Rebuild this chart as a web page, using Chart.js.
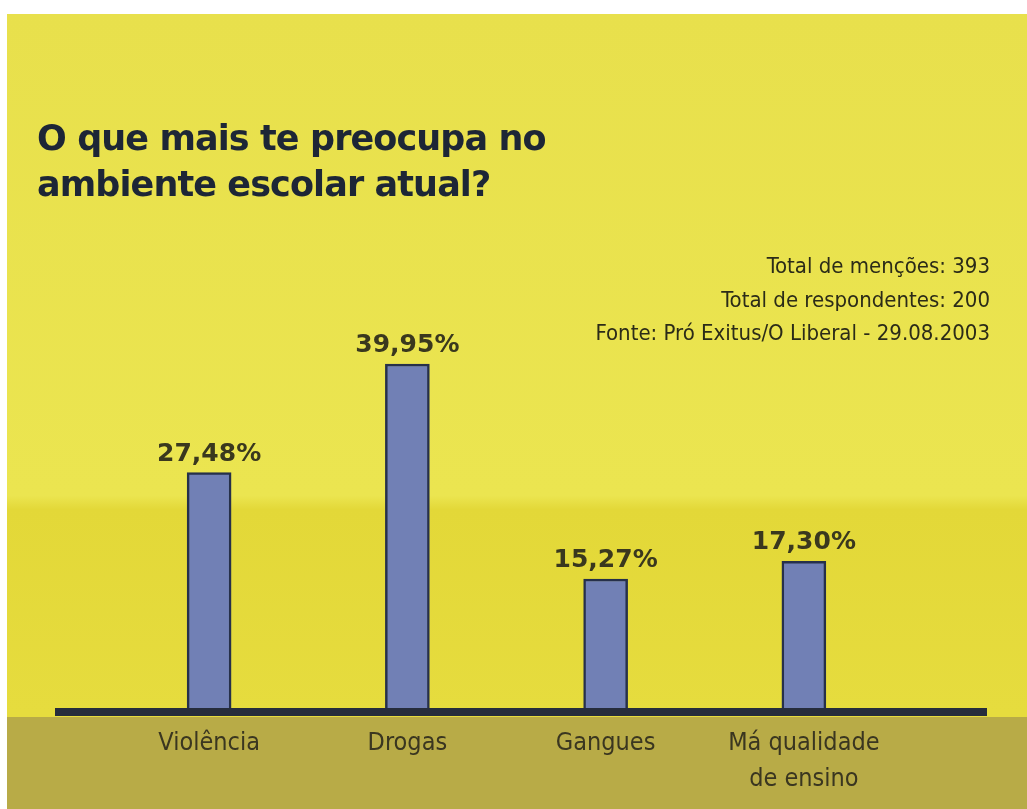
<!DOCTYPE html>
<html>
<head>
<meta charset="utf-8">
<script src="https://cdn.jsdelivr.net/npm/chart.js@4.4.1/dist/chart.umd.min.js"></script>
<style>
  html, body { margin: 0; padding: 0; background: #ffffff; }
  #wrap { position: relative; width: 1027px; height: 809px; overflow: hidden; }
  #barChart { position: absolute; left: 0; top: 0; }
  .title {
    position: absolute; left: 37px; top: 115px;
    font-family: "DejaVu Sans", sans-serif; font-weight: 700;
    font-size: 35px; line-height: 46px; letter-spacing: -0.9px;
    color: #1d2636;
  }
  .notes {
    position: absolute; right: 37px; top: 249px; text-align: right;
    font-family: "Liberation Sans Narrow", "DejaVu Sans Condensed", sans-serif;
    font-size: 22px; line-height: 33.5px;
    color: #2b2b18;
  }
</style>
</head>
<body>
<div id="wrap">
  <canvas id="barChart" width="1027" height="809"></canvas>
  <div class="title">O que mais te preocupa no<br>ambiente escolar atual?</div>
  <div class="notes">Total de menções: 393<br>Total de respondentes: 200<br>Fonte: Pró Exitus/O Liberal - 29.08.2003</div>
</div>
<script>
const categories = ['Violência', 'Drogas', 'Gangues', ['Má qualidade', 'de ensino']];
const percentages = [27.48, 39.95, 15.27, 17.30];
const valueLabels = ['27,48%', '39,95%', '15,27%', '17,30%'];

// paper background: yellow sheet, olive band under the baseline
const paperBackground = {
    id: 'paperBackground',
    beforeDraw(chart) {
        const ctx = chart.ctx;
        const zero = chart.scales.y.getPixelForValue(0);
        ctx.save();
        ctx.fillStyle = '#ffffff';
        ctx.fillRect(0, 0, chart.width, chart.height);
        const grad = ctx.createLinearGradient(0, 14, 0, zero);
        grad.addColorStop(0, '#e8e04c');
        grad.addColorStop(0.69, '#ebe550');
        grad.addColorStop(0.71, '#e3d838');
        grad.addColorStop(1, '#e6dc3e');
        ctx.fillStyle = grad;
        ctx.fillRect(7, 14, chart.width - 7, chart.height - 14);
        ctx.fillStyle = '#b8ab47';
        ctx.fillRect(7, zero + 5, chart.width - 7, chart.height - zero - 5);
        ctx.restore();
    }
};

// thick baseline and the value labels over each bar
const baselineAndLabels = {
    id: 'baselineAndLabels',
    afterDatasetsDraw(chart) {
        const ctx = chart.ctx;
        const zero = chart.scales.y.getPixelForValue(0);
        ctx.save();
        ctx.fillStyle = '#262d3c';
        ctx.fillRect(55, zero - 4, 932, 8);

        ctx.fillStyle = '#3a381e';
        ctx.font = '700 25px "DejaVu Sans", sans-serif';
        ctx.textAlign = 'center';
        ctx.textBaseline = 'bottom';
        chart.getDatasetMeta(0).data.forEach((bar, i) => {
            ctx.fillText(valueLabels[i], bar.x, bar.y - 6);
        });
        ctx.restore();
    }
};

const ctx = document.getElementById('barChart').getContext('2d');

new Chart(ctx, {
    type: 'bar',
    data: {
        labels: categories,
        datasets: [
            {
                data: percentages,
                backgroundColor: '#7180b5',
                borderColor: '#26304a',
                borderWidth: 2.5,
                borderSkipped: 'bottom',
                barThickness: 44
            }
        ]
    },
    options: {
        responsive: false,
        animation: false,
        layout: {
            padding: { left: 110, right: 124, top: 320, bottom: 7 }
        },
        plugins: {
            legend: { display: false },
            title: { display: false },
            tooltip: { enabled: false }
        },
        scales: {
            y: {
                display: false,
                min: 0,
                max: 45
            },
            x: {
                grid: { display: false },
                border: { display: false },
                ticks: {
                    color: '#3a3620',
                    padding: 5,
                    font: {
                        family: '"Liberation Sans Narrow", "DejaVu Sans Condensed", sans-serif',
                        size: 25,
                        lineHeight: 1.44
                    }
                }
            }
        }
    },
    plugins: [paperBackground, baselineAndLabels]
});
</script>
</body>
</html>
